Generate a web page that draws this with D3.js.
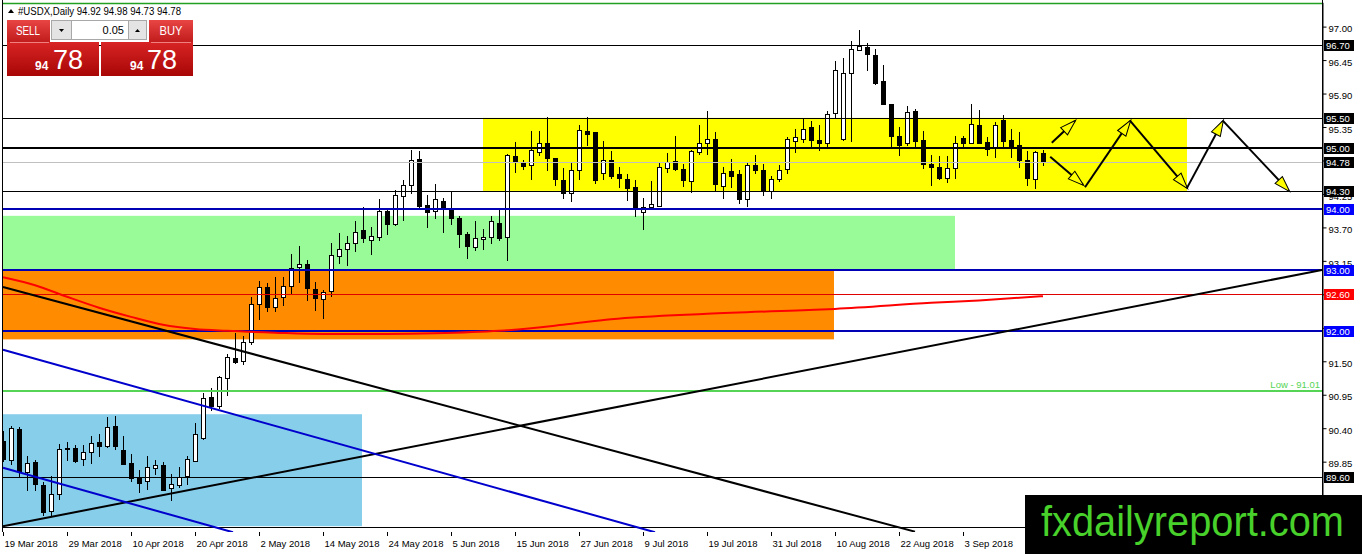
<!DOCTYPE html>
<html lang="en">
<head>
<meta charset="utf-8">
<title>#USDX Daily</title>
<script src="https://cdn.jsdelivr.net/npm/d3@7"></script>
<style>
  body { margin: 0; background: #fff; }
  svg { display: block; font-family: "Liberation Sans", Arial, sans-serif; }
</style>
</head>
<body>
<script>

// daily bars, 19 Mar 2018 .. 17 Sep 2018 (bar index 0..130)
var opens = [90.19,89.87,90.39,89.68,89.85,89.46,89.04,89.32,90.06,90.08,89.89,90.01,90.17,90.10,90.44,90.05,89.83,89.60,89.53,89.75,
  89.79,89.42,89.46,89.61,89.86,90.24,90.92,90.76,91.22,91.55,91.51,91.81,92.44,92.72,92.40,92.56,92.74,93.05,93.10,92.68,
  92.52,92.66,93.23,93.34,93.45,93.66,93.50,93.55,93.97,93.75,94.21,94.39,94.83,94.07,93.97,94.13,94.00,93.86,93.59,93.38,
  93.51,93.55,93.78,93.55,94.87,94.76,94.72,94.94,95.09,94.84,94.48,94.27,94.65,95.28,95.26,94.59,94.81,94.57,94.50,94.36,
  93.95,94.03,94.06,94.68,94.79,94.66,94.46,94.94,95.08,95.15,94.38,94.62,94.57,94.16,94.72,94.64,94.30,94.49,94.66,95.12,
  95.16,95.35,95.13,95.09,95.58,95.16,96.24,96.62,96.66,96.54,96.10,95.72,95.21,95.08,95.61,95.13,94.75,94.69,94.51,94.67,
  95.17,95.09,95.38,95.11,95.01,95.47,95.13,95.05,94.81,94.49,94.92];
var highs = [90.35,90.44,90.42,89.95,89.87,89.51,89.62,90.14,90.17,90.12,90.12,90.27,90.30,90.59,90.60,90.27,89.97,89.72,89.95,89.87,
  89.84,89.64,89.77,89.94,90.48,90.98,91.06,91.25,91.62,91.96,91.91,92.55,92.82,92.78,92.89,92.89,93.26,93.39,93.16,92.81,
  92.67,93.44,93.60,93.56,93.80,94.03,93.71,94.16,93.98,94.31,94.48,94.97,94.96,94.23,94.42,94.18,94.30,93.88,93.63,93.80,
  93.67,93.89,94.01,94.91,95.10,94.80,95.28,95.28,95.51,94.84,94.67,94.76,95.39,95.51,95.26,95.12,94.96,94.69,94.57,94.48,
  94.19,94.46,94.76,94.92,95.21,94.75,94.98,95.38,95.62,95.26,94.70,94.83,94.64,94.76,94.89,94.74,94.54,94.72,95.19,95.31,
  95.49,95.45,95.39,95.61,96.43,96.49,96.76,96.95,96.73,96.63,96.37,95.72,95.35,95.69,95.65,95.28,94.89,94.87,94.87,95.20,
  95.20,95.72,95.63,95.19,95.44,95.54,95.32,95.26,94.96,94.96,94.98];
var lows = [89.86,89.82,89.61,89.39,89.39,88.98,88.95,89.23,89.87,89.85,89.80,89.83,89.94,90.09,90.06,89.81,89.53,89.35,89.40,89.64,
  89.38,89.22,89.44,89.48,89.86,90.22,90.70,90.74,90.95,91.47,91.46,91.78,92.20,92.32,92.32,92.43,92.62,92.81,92.51,92.34,
  92.21,92.57,93.11,93.08,93.32,93.46,93.26,93.49,93.59,93.74,93.82,94.26,94.00,93.70,93.85,93.63,93.75,93.38,93.19,93.33,
  93.34,93.45,93.50,93.16,94.61,94.66,94.50,94.89,94.64,94.39,94.19,94.14,94.49,95.05,94.43,94.49,94.51,94.37,94.15,93.89,
  93.67,94.00,94.06,94.61,94.64,94.38,94.28,94.90,94.90,94.32,94.19,94.36,94.10,94.05,94.60,94.24,94.19,94.46,94.59,94.94,
  95.10,95.00,94.97,95.00,95.50,95.13,95.12,96.62,96.29,96.06,95.73,95.03,94.89,95.05,95.02,94.67,94.40,94.49,94.44,94.52,
  95.00,95.08,95.08,94.89,94.85,95.00,94.85,94.69,94.40,94.34,94.73];
var closes = [89.89,90.40,89.69,89.83,89.48,89.02,89.32,90.06,90.07,89.86,90.01,90.16,90.10,90.42,90.10,89.81,89.59,89.50,89.77,89.79,
  89.39,89.49,89.60,89.89,90.30,90.90,90.76,91.24,91.57,91.48,91.81,92.44,92.72,92.40,92.54,92.73,93.04,93.10,92.70,92.54,
  92.64,93.25,93.34,93.45,93.63,93.52,93.56,93.97,93.75,94.23,94.39,94.81,94.05,93.96,94.16,94.00,93.85,93.59,93.40,93.52,
  93.55,93.80,93.53,94.89,94.77,94.71,94.97,95.08,94.84,94.50,94.26,94.64,95.30,95.24,94.48,94.81,94.54,94.52,94.35,94.00,
  94.04,94.08,94.70,94.77,94.66,94.48,94.95,95.08,95.16,94.42,94.60,94.55,94.16,94.73,94.65,94.31,94.49,94.64,95.15,95.18,
  95.32,95.14,95.08,95.57,96.28,96.24,96.63,96.68,96.55,96.07,95.73,95.20,95.05,95.59,95.12,94.74,94.69,94.51,94.67,95.08,
  95.09,95.40,95.09,94.99,95.39,95.12,95.03,94.80,94.51,94.94,94.78];

// red moving average, read at these bars
var maIdx = [0,4,8,12,16,20,24,28,34,40,48,54,62,70,76,88,100,104,116,122,130];
var maVal = [92.88,92.75,92.56,92.38,92.23,92.10,92.03,92.00,91.97,91.95,91.95,91.96,92.00,92.10,92.19,92.28,92.34,92.36,92.46,92.50,92.57];

// time axis labels
var dateIdx = [0,8,16,24,32,40,48,56,64,72,80,88,96,104,112,120,128];
var dateLabels = ["19 Mar 2018","29 Mar 2018","10 Apr 2018","20 Apr 2018","2 May 2018","14 May 2018","24 May 2018",
  "5 Jun 2018","15 Jun 2018","27 Jun 2018","9 Jul 2018","19 Jul 2018","31 Jul 2018","10 Aug 2018","22 Aug 2018",
  "3 Sep 2018","13 Sep 2018"];

// price axis labels
var priceTicks = [97.00,96.45,95.90,95.35,94.80,94.25,93.70,93.15,92.60,92.05,91.50,90.95,90.40,89.85,89.30];

// zones: [fromBar, toBar, lowPrice, highPrice, colour]
var zones = [
  [60, 148, 94.30, 95.50, "#ffff00"],
  [-1, 119, 93.01, 93.89, "#98fb98"],
  [-1, 103.875, 91.86, 93.00, "#ff8c00"],
  [-1, 44.875, 88.79, 90.63, "#87ceeb"]
];

// horizontal levels: [price, colour, width, label box colour or null]
var levels = [
  [97.39, "#22a022", 1.5, null],
  [96.70, "#000", 1, "#000"],
  [95.50, "#000", 1, "#000"],
  [95.00, "#000", 2, "#000"],
  [94.78, "#c0c0c0", 1, "#000"],
  [94.30, "#000", 1, "#000"],
  [94.00, "#0000b4", 2, "#0000ff"],
  [93.00, "#0000b4", 2, "#0000ff"],
  [92.60, "#e00000", 1, "#ff0000"],
  [92.00, "#0000b4", 2, "#0000ff"],
  [91.01, "#55d455", 2, null],
  [89.60, "#000", 1, "#000"],
  [88.78, "#000", 1, null]
];

// trend lines: [bar0, price0, bar1, price1, colour]
var trends = [
  [0, 92.72, 114, 88.70, "#000"],
  [0, 88.79, 164.9, 93.00, "#000"],
  [0, 91.69, 81.5, 88.69, "#0000cd"],
  [0, 89.75, 28.75, 88.69, "#0000cd"]
];

// projected path arrows: [bar0, price0, bar1, price1]
var arrows = [
  [131.1, 95.09, 134, 95.45],
  [130.9, 94.86, 135, 94.40],
  [135.25, 94.36, 140.9, 95.45],
  [140.9, 95.45, 148, 94.35],
  [148, 94.35, 152.5, 95.45],
  [152.5, 95.45, 160.75, 94.30]
];

var W = 1362, H = 554, right = 1322, bottom = 532;

var svg = d3.select("body").append("svg")
  .attr("width", W).attr("height", H);

svg.append("rect").attr("width", W).attr("height", H).attr("fill", "#fff");

var x = d3.scaleLinear().domain([0, 164.875]).range([3, right]);
var y = d3.scaleLinear().domain([88.7, 97.4]).range([531.66, 2.26]);

var defs = svg.append("defs");
defs.append("clipPath").attr("id", "plot")
  .append("rect").attr("x", 2).attr("y", 0).attr("width", right - 2).attr("height", bottom);

defs.append("marker")
  .attr("id", "head")
  .attr("viewBox", "0 0 16 10")
  .attr("refX", 15).attr("refY", 5)
  .attr("markerWidth", 16).attr("markerHeight", 10)
  .attr("markerUnits", "userSpaceOnUse")
  .attr("orient", "auto")
  .style("overflow", "visible")
  .append("path")
  .attr("d", "M0,0 L16,5 L0,10 Z")
  .attr("fill", "#ffff00").attr("stroke", "#000").attr("stroke-width", 1);

var g1 = defs.append("linearGradient").attr("id", "btn").attr("x1", 0).attr("y1", 0).attr("x2", 0).attr("y2", 1);
g1.append("stop").attr("offset", 0).attr("stop-color", "#e84545");
g1.append("stop").attr("offset", 1).attr("stop-color", "#c01a1a");
var g2 = defs.append("linearGradient").attr("id", "pan").attr("x1", 0).attr("y1", 0).attr("x2", 0).attr("y2", 1);
g2.append("stop").attr("offset", 0).attr("stop-color", "#d82424");
g2.append("stop").attr("offset", 1).attr("stop-color", "#a80606");

var plot = svg.append("g").attr("clip-path", "url(#plot)");

// zones
plot.selectAll("rect.zone").data(zones).enter().append("rect")
  .attr("class", "zone")
  .attr("x", function(d) { return x(d[0]); })
  .attr("width", function(d) { return x(d[1]) - x(d[0]); })
  .attr("y", function(d) { return y(d[3]); })
  .attr("height", function(d) { return y(d[2]) - y(d[3]); })
  .attr("fill", function(d) { return d[4]; });

// candles
var idx = d3.range(opens.length);
var cx = function(i) { return Math.round(x(i)) + 0.5; };
var candles = plot.append("g").attr("shape-rendering", "crispEdges");
candles.selectAll("line").data(idx).enter().append("line")
  .attr("x1", cx).attr("x2", cx)
  .attr("y1", function(i) { return Math.round(y(highs[i])); })
  .attr("y2", function(i) { return Math.round(y(lows[i])) + 1; })
  .attr("stroke", "#000");
candles.selectAll("rect").data(idx).enter().append("rect")
  .attr("x", function(i) { return cx(i) - 2; })
  .attr("width", 4)
  .attr("y", function(i) { return Math.round(y(Math.max(opens[i], closes[i]))) + 0.5; })
  .attr("height", function(i) {
    return Math.max(1, Math.round(y(Math.min(opens[i], closes[i]))) - Math.round(y(Math.max(opens[i], closes[i]))));
  })
  .attr("fill", function(i) { return closes[i] >= opens[i] ? "#fff" : "#000"; })
  .attr("stroke", "#000");

// horizontal levels
plot.selectAll("line.lvl").data(levels).enter().append("line")
  .attr("class", "lvl")
  .attr("x1", 0).attr("x2", right)
  .attr("y1", function(d) { return Math.round(y(d[0])) + (d[2] % 2 ? 0.5 : 0); })
  .attr("y2", function(d) { return Math.round(y(d[0])) + (d[2] % 2 ? 0.5 : 0); })
  .attr("stroke", function(d) { return d[1]; })
  .attr("stroke-width", function(d) { return d[2]; });

// trend lines
plot.selectAll("line.trend").data(trends).enter().append("line")
  .attr("class", "trend")
  .attr("x1", function(d) { return x(d[0]); })
  .attr("y1", function(d) { return y(d[1]); })
  .attr("x2", function(d) { return x(d[2]); })
  .attr("y2", function(d) { return y(d[3]); })
  .attr("stroke", function(d) { return d[4]; })
  .attr("stroke-width", 2);

// moving average
plot.append("path")
  .datum(maIdx)
  .attr("fill", "none")
  .attr("stroke", "#ff0000")
  .attr("stroke-width", 2)
  .attr("d", d3.line()
    .x(function(d) { return x(d); })
    .y(function(d, i) { return y(maVal[i]); })
    .curve(d3.curveMonotoneX));

// "Low" label
plot.append("text")
  .attr("x", right - 2).attr("y", y(91.01) - 3)
  .attr("text-anchor", "end")
  .attr("font-size", 9.5)
  .attr("fill", "#55d455")
  .text("Low - 91.01");

// arrows
plot.selectAll("line.arrow").data(arrows).enter().append("line")
  .attr("class", "arrow")
  .attr("x1", function(d) { return x(d[0]); })
  .attr("y1", function(d) { return y(d[1]); })
  .attr("x2", function(d) { return x(d[2]); })
  .attr("y2", function(d) { return y(d[3]); })
  .attr("stroke", "#000")
  .attr("stroke-width", 2)
  .attr("marker-end", "url(#head)");

// left frame
svg.append("line").attr("x1", 2.5).attr("x2", 2.5).attr("y1", 0).attr("y2", bottom)
  .attr("stroke", "#000");

// price axis
var yAxis = svg.append("g")
  .attr("transform", "translate(" + (right + 0.5) + ",0)")
  .call(d3.axisRight(y).tickValues(priceTicks).tickSize(4).tickSizeOuter(0).tickPadding(2)
    .tickFormat(d3.format(".2f")));
yAxis.select(".domain").attr("stroke", "#000");
yAxis.selectAll("text").attr("font-size", 9.5).attr("font-family", "Liberation Sans, Arial, sans-serif")
  .attr("dy", "0.55em").attr("fill", "#000");
yAxis.selectAll("line").attr("stroke", "#000");
svg.append("line").attr("x1", right + 0.5).attr("x2", right + 0.5).attr("y1", 0).attr("y2", bottom)
  .attr("stroke", "#000");

// level boxes on the price axis
var boxes = svg.selectAll("g.box").data(levels.filter(function(d) { return d[3]; })).enter()
  .append("g").attr("class", "box")
  .attr("transform", function(d) { return "translate(" + (right + 2) + "," + Math.round(y(d[0])) + ")"; });
boxes.append("rect")
  .attr("x", 0).attr("y", -5).attr("width", 30).attr("height", 11)
  .attr("fill", function(d) { return d[3]; });
boxes.append("text")
  .attr("x", 2).attr("y", 4)
  .attr("font-size", 9.5)
  .attr("fill", "#fff")
  .text(function(d) { return d3.format(".2f")(d[0]); });

// time axis
var xAxis = svg.append("g")
  .attr("transform", "translate(0," + bottom + ")")
  .call(d3.axisBottom(x).tickValues(dateIdx).tickSize(4).tickSizeOuter(0)
    .tickFormat(function(d, i) { return dateLabels[i]; }));
xAxis.select(".domain").remove();
xAxis.selectAll("line").attr("stroke", "#000");
xAxis.selectAll("text")
  .attr("text-anchor", "start")
  .attr("x", 1).attr("y", 8)
  .attr("font-size", 9.5)
  .attr("font-family", "Liberation Sans, Arial, sans-serif")
  .attr("fill", "#000");

// banner
svg.append("rect").attr("x", 1025).attr("y", 495).attr("width", W - 1025).attr("height", H - 495).attr("fill", "#000");
svg.append("text")
  .attr("x", 1041).attr("y", 536)
  .attr("font-size", 43)
  .attr("fill", "#48d12b")
  .attr("textLength", 303)
  .attr("lengthAdjust", "spacingAndGlyphs")
  .text("fxdailyreport.com");

// header
svg.append("path").attr("d", "M8,13 L11,9 L14,13 Z").attr("fill", "#000");
svg.append("text").attr("x", 18).attr("y", 15).attr("font-size", 10).attr("fill", "#000")
  .attr("textLength", 163).attr("lengthAdjust", "spacingAndGlyphs")
  .text("#USDX,Daily  94.92 94.98 94.73 94.78");

// trade panel
var tp = svg.append("g");
tp.append("rect").attr("x", 7).attr("y", 20).attr("width", 43).attr("height", 23).attr("fill", "url(#btn)");
tp.append("rect").attr("x", 149).attr("y", 20).attr("width", 44).attr("height", 23).attr("fill", "url(#btn)");
tp.append("rect").attr("x", 7).attr("y", 42).attr("width", 92).attr("height", 34).attr("fill", "url(#pan)");
tp.append("rect").attr("x", 101).attr("y", 42).attr("width", 92).attr("height", 34).attr("fill", "url(#pan)");
tp.append("line").attr("x1", 10).attr("x2", 49).attr("y1", 42.5).attr("y2", 42.5).attr("stroke", "#f08080");
tp.append("line").attr("x1", 151).attr("x2", 191).attr("y1", 42.5).attr("y2", 42.5).attr("stroke", "#f08080");
tp.append("text").attr("x", 28).attr("y", 35).attr("text-anchor", "middle").attr("font-size", 12)
  .attr("fill", "#fff").attr("textLength", 24).attr("lengthAdjust", "spacingAndGlyphs").text("SELL");
tp.append("text").attr("x", 171).attr("y", 35).attr("text-anchor", "middle").attr("font-size", 12)
  .attr("fill", "#fff").attr("textLength", 23).attr("lengthAdjust", "spacingAndGlyphs").text("BUY");
tp.append("rect").attr("x", 51.5).attr("y", 20.5).attr("width", 95).attr("height", 19)
  .attr("fill", "#e4e4e4").attr("stroke", "#a8a8a8");
tp.append("rect").attr("x", 71.5).attr("y", 20.5).attr("width", 57).attr("height", 19)
  .attr("fill", "#fff").attr("stroke", "#a8a8a8");
tp.append("path").attr("d", "M59,29 L64,29 L61.5,32 Z").attr("fill", "#000");
tp.append("path").attr("d", "M135,32 L140,32 L137.5,29 Z").attr("fill", "#000");
tp.append("text").attr("x", 124).attr("y", 34).attr("text-anchor", "end").attr("font-size", 11)
  .attr("fill", "#000").text("0.05");
[[7, 35, 53], [101, 130, 147]].forEach(function(p) {
  tp.append("text").attr("x", p[1]).attr("y", 70).attr("font-size", 12).attr("font-weight", "bold")
    .attr("fill", "#fff").text("94");
  tp.append("text").attr("x", p[2]).attr("y", 69).attr("font-size", 27)
    .attr("fill", "#fff").text("78");
});

</script>
</body>
</html>
